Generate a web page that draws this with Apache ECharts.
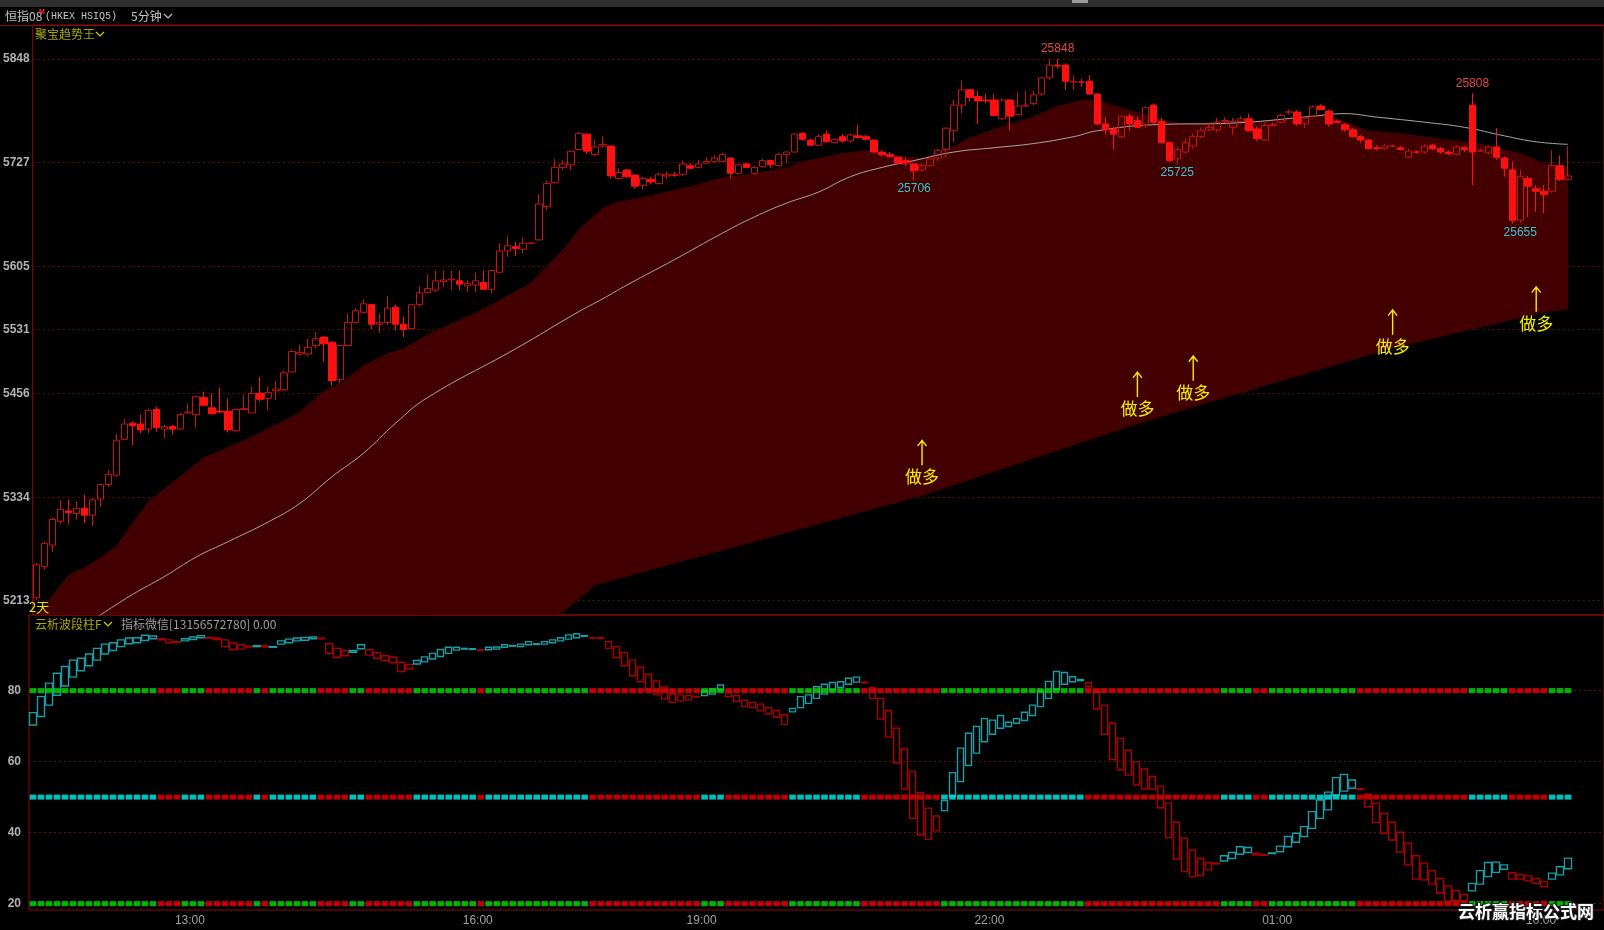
<!DOCTYPE html>
<html><head><meta charset="utf-8">
<script src="https://cdn.jsdelivr.net/npm/echarts@6/dist/echarts.min.js"></script>
<style>html,body{margin:0;padding:0;background:#000;}#c{width:1604px;height:930px;}</style>
</head><body><div id="c"></div>
<script>
// ---------- categories (5-minute bars, sessions) ----------
const sessionRanges = [['10:25','11:55'],['13:00','16:30'],['17:15','02:55'],['09:15','10:20']];
const padBars = 4;
const shownTimes = ['13:00','16:00','19:00','22:00','01:00','10:00'];
function expandSession(r){
  let [h,m] = r[0].split(':').map(Number);
  const [eh,em] = r[1].split(':').map(Number);
  const out = [];
  while (true) {
    out.push(String(h).padStart(2,'0') + ':' + String(m).padStart(2,'0'));
    if (h === eh && m === em) break;
    m += 5; if (m >= 60) { m -= 60; h = (h + 1) % 24; }
  }
  return out;
}
const times = [].concat(...sessionRanges.map(expandSession));
const categories = times.concat(new Array(padBars).fill(''));

// ---------- price candles ----------
const opens = [25216,25253,25278,25306,25318,25315,25321,25313,25332,25349,
25360,25402,25421,25420,25414,25437,25414,25417,25414,25433,
25431,25451,25439,25435,25435,25412,25437,25433,25456,25450,
25459,25460,25481,25502,25502,25512,25522,25516,25472,25512,
25539,25551,25560,25537,25539,25557,25537,25532,25560,25574,
25577,25587,25589,25588,25582,25583,25586,25578,25598,25623,
25628,25625,25632,25636,25675,25703,25721,25724,25742,25760,
25736,25746,25746,25708,25718,25712,25700,25707,25702,25711,
25712,25713,25723,25721,25726,25728,25728,25732,25714,25725,
25714,25722,25729,25723,25736,25739,25761,25753,25747,25760,
25750,25757,25752,25758,25757,25753,25739,25736,25733,25729,
25725,25718,25723,25732,25742,25764,25794,25812,25804,25800,
25800,25778,25800,25783,25793,25796,25807,25826,25841,25841,
25821,25821,25822,25807,25772,25766,25757,25781,25776,25770,
25794,25775,25750,25731,25739,25746,25757,25765,25765,25775,
25768,25775,25778,25766,25753,25770,25774,25786,25786,25772,
25781,25793,25787,25775,25771,25765,25757,25753,25744,25743,
25746,25744,25733,25739,25739,25747,25743,25739,25736,25744,
25794,25740,25738,25745,25732,25718,25659,25708,25696,25693,
25693,25723,25707];
const closes = [25255,25280,25308,25320,25316,25321,25313,25331,25349,25361,
25401,25420,25418,25413,25436,25416,25417,25414,25431,25434,
25452,25442,25432,25434,25413,25437,25438,25456,25449,25457,
25461,25480,25505,25504,25510,25520,25514,25471,25512,25539,
25553,25561,25537,25539,25556,25537,25531,25560,25574,25579,
25588,25589,25590,25584,25585,25588,25578,25600,25623,25629,
25626,25632,25632,25678,25702,25721,25725,25740,25761,25740,
25745,25748,25711,25715,25710,25699,25708,25704,25713,25713,
25712,25725,25720,25725,25728,25732,25736,25714,25724,25721,
25721,25729,25724,25736,25739,25760,25754,25747,25757,25751,
25754,25752,25759,25756,25754,25739,25736,25734,25726,25726,
25717,25723,25731,25741,25767,25794,25812,25803,25799,25799,
25782,25800,25781,25793,25794,25806,25826,25841,25840,25822,
25822,25821,25807,25772,25765,25760,25781,25772,25768,25791,
25774,25750,25729,25742,25750,25757,25764,25768,25774,25776,
25775,25778,25764,25755,25770,25771,25782,25786,25772,25779,
25792,25789,25772,25774,25765,25757,25753,25743,25743,25746,
25746,25742,25740,25739,25746,25743,25739,25737,25745,25742,
25739,25741,25745,25733,25720,25659,25710,25699,25693,25689,
25723,25707,25711];
const lows = [25214,25249,25270,25302,25302,25308,25304,25300,25323,25346,
25358,25401,25395,25409,25409,25411,25403,25408,25413,25433,
25416,25441,25431,25433,25410,25411,25436,25433,25446,25436,
25448,25459,25480,25501,25500,25509,25493,25465,25468,25511,
25538,25550,25531,25527,25536,25530,25522,25531,25558,25573,
25575,25581,25577,25577,25575,25575,25577,25573,25597,25616,
25617,25620,25631,25635,25671,25702,25718,25718,25741,25737,
25734,25744,25708,25707,25708,25696,25695,25701,25701,25707,
25710,25711,25719,25720,25725,25726,25727,25708,25713,25720,
25712,25721,25720,25722,25726,25738,25752,25746,25746,25750,
25749,25750,25750,25755,25753,25738,25734,25732,25725,25723,
25706,25716,25722,25728,25733,25750,25784,25798,25772,25796,
25781,25777,25764,25782,25792,25794,25805,25823,25837,25812,
25812,25815,25806,25770,25759,25742,25755,25764,25767,25767,
25772,25749,25727,25725,25737,25743,25755,25763,25762,25773,
25759,25774,25763,25752,25752,25769,25773,25783,25770,25767,
25780,25788,25769,25773,25763,25756,25750,25742,25741,25742,
25745,25741,25732,25737,25737,25741,25737,25735,25735,25739,
25700,25739,25736,25730,25710,25655,25656,25663,25669,25667,
25691,25705,25706];
const highs = [25257,25282,25310,25331,25331,25329,25337,25333,25349,25366,
25409,25426,25423,25431,25438,25440,25419,25419,25433,25444,
25453,25458,25456,25463,25450,25438,25454,25464,25475,25464,
25470,25483,25507,25513,25520,25528,25523,25517,25513,25550,
25556,25566,25561,25550,25570,25560,25546,25561,25582,25595,
25600,25600,25600,25600,25589,25598,25600,25601,25632,25640,
25634,25639,25633,25690,25706,25731,25730,25741,25762,25761,
25753,25757,25747,25720,25719,25713,25710,25710,25715,25716,
25716,25729,25726,25730,25733,25735,25738,25733,25725,25726,
25723,25731,25730,25738,25740,25761,25762,25755,25760,25764,
25755,25760,25761,25771,25759,25754,25741,25739,25734,25732,
25726,25726,25733,25743,25768,25800,25823,25813,25811,25807,
25807,25802,25801,25810,25811,25811,25827,25848,25848,25843,
25829,25825,25829,25808,25780,25768,25782,25784,25781,25793,
25796,25779,25751,25745,25755,25761,25768,25772,25779,25780,
25779,25781,25784,25769,25773,25774,25784,25789,25788,25781,
25794,25795,25789,25777,25773,25767,25759,25754,25747,25748,
25748,25746,25743,25741,25748,25749,25745,25741,25747,25746,
25808,25743,25747,25767,25734,25728,25718,25711,25700,25700,
25741,25735,25746];

// ---------- trend band (filled area) and moving line ----------
const bandTopIdx = [0,4,7,10,12,14,18,21,24,26,31,33,36,38,41,44,46,49,56,62,66,68,71,73,77,82,86,90,94,96,101,104,108,111,114,117,121,125,128,131,133,135,140,143,147,154,161,163,167,171,176,181,186,189,192];
const bandTopVal = [25196,25243,25257,25277,25304,25329,25359,25381,25393,25401,25424,25434,25459,25467,25489,25503,25509,25525,25555,25586,25625,25648,25674,25681,25688,25699,25709,25714,25721,25728,25738,25741,25735,25732,25741,25756,25769,25781,25793,25800,25800,25794,25780,25773,25774,25776,25782,25779,25764,25761,25755,25749,25738,25726,25722];
const bandLowIdx = [0,30,66,70,111,138,145,170,188,192];
const bandLowVal = [24995,25087,25199,25231,25336,25420,25440,25509,25549,25555];
const maIdx = [7,12,16,20,24,29,33,37,41,45,49,60,68,71,74,80,86,90,94,98,102,106,110,115,120,125,130,133,140,150,160,164,168,174,179,184,188,192];
const maVal = [25190,25220,25241,25264,25282,25305,25327,25358,25386,25421,25451,25508,25552,25567,25583,25613,25644,25663,25679,25692,25710,25721,25729,25739,25744,25749,25757,25764,25771,25773,25781,25784,25780,25774,25768,25758,25751,25748];

// ---------- annotations ----------
const extremeIdx = [128,110,143,180,186];
const extremeVal = [25848,25706,25725,25808,25655];
const extremeIsHigh = [true,false,false,true,false];
const longIdx = [111,138,145,170,188];
const longVal = [25387,25467,25486,25540,25567];
const longText = '做多';

// ---------- oscillator panel ----------
const waveOpen = [70.3,72.7,75.9,78.7,81.3,83.8,85.6,87.0,88.6,90.3,
91.3,92.4,93.2,93.5,94.1,94.6,94.6,94.3,93.8,94.0,
94.4,94.9,95.0,94.8,94.3,93.4,92.9,92.5,92.4,92.6,
92.2,93.1,93.5,94.0,94.2,94.6,94.8,93.2,91.9,91.3,
90.8,91.8,91.5,90.7,89.8,89.4,88.0,87.4,87.5,88.1,
88.9,89.6,90.5,91.4,91.7,91.6,91.5,91.5,91.7,92.2,
92.5,92.4,92.9,93.0,93.1,93.5,94.0,94.5,94.9,95.3,
94.9,94.9,93.8,92.4,90.7,88.6,86.6,84.6,82.7,81.0,
79.1,78.8,78.6,78.4,78.6,79.0,80.2,79.5,78.6,77.3,
76.7,76.2,75.2,74.4,73.2,74.0,75.2,76.4,77.8,79.0,
80.2,80.9,81.8,82.4,82.4,80.9,77.8,74.4,69.4,63.7,
57.2,51.3,46.9,44.7,46.2,50.3,54.4,58.9,62.4,65.6,
67.7,69.4,69.9,70.8,71.6,73.0,75.5,77.8,80.4,81.8,
82.5,82.8,82.3,79.6,75.9,70.8,66.5,63.2,60.0,57.9,
55.8,53.1,48.3,42.9,38.4,35.1,32.7,31.6,31.4,32.0,
32.7,33.9,34.4,34.2,33.8,34.1,34.6,36.0,37.3,38.9,
41.2,44.0,46.4,50.6,51.7,52.5,52.4,50.8,48.3,45.5,
42.9,40.1,37.0,33.5,31.4,29.3,27.1,25.0,23.7,22.6,
23.6,25.5,27.6,28.8,29.7,28.7,28.2,27.8,27.1,26.2,
26.9,28.1,29.8];
const waveClose = [73.8,78.3,82.1,84.9,86.8,88.6,89.1,90.3,91.9,93.1,
93.5,94.3,94.8,94.9,95.6,95.4,94.3,93.5,93.6,94.6,
95.1,95.5,94.8,94.4,92.4,91.6,91.7,92.3,92.7,92.3,
92.4,94.0,94.5,94.8,95.0,95.1,94.6,90.5,89.4,89.8,
91.3,92.9,90.0,89.1,88.5,87.9,85.4,86.1,88.5,89.5,
90.5,91.6,92.2,92.2,91.9,91.8,91.3,92.2,92.3,92.9,
92.7,93.1,93.8,93.2,93.8,94.3,94.9,95.7,96.0,95.5,
94.8,94.7,91.9,89.3,87.0,84.2,82.5,80.5,78.8,77.6,
76.7,77.1,77.4,78.2,79.9,80.5,81.6,78.3,77.0,75.5,
75.2,74.3,73.5,72.5,70.5,75.0,78.3,78.8,81.1,81.8,
82.3,82.5,83.5,83.8,82.2,77.8,72.0,66.9,59.7,52.3,
44.0,39.4,38.1,40.5,49.0,56.9,63.8,68.0,69.9,72.1,
71.7,73.0,71.1,72.1,73.9,75.9,79.9,82.6,85.4,85.1,
83.9,83.1,81.1,74.8,67.7,60.6,57.7,56.2,53.4,52.3,
52.3,47.0,38.6,32.5,29.0,27.6,27.9,29.5,31.2,33.5,
34.4,36.0,35.8,33.7,33.6,34.3,36.2,38.9,39.8,41.7,
45.9,49.2,51.4,55.5,56.4,54.8,52.2,47.3,42.8,39.8,
37.9,34.5,30.9,26.9,26.7,25.5,22.9,20.6,20.8,20.8,
25.7,29.3,31.6,31.7,30.9,26.9,26.9,26.4,25.7,24.8,
28.6,30.4,32.8];
const signalLevels = [80, 50, 20];

// ---------- axes ticks ----------
const priceTicks = [25848,25727,25605,25531,25456,25334,25213];
const oscTicks = [20,40,60,80];

// ================= build chart =================
const FONT = "'Liberation Sans','Noto Sans CJK SC',sans-serif";
const CJK = "'Noto Sans CJK SC',sans-serif";
const waveUp = waveOpen.map((o,k) => waveClose[k] >= o);
const gridLine = {color:'#6a0c0c', type:[2,3], width:1};
const frame = '#8c0a0a';

const markData = [];
extremeIdx.forEach((x,k) => {
  const hi = extremeIsHigh[k];
  markData.push({
    coord:[x, extremeVal[k]], symbol:'circle', symbolSize:1,
    itemStyle:{color:'rgba(0,0,0,0)'},
    label:{show:true, formatter:String(extremeVal[k]), position:'inside',
      offset:[0, hi ? -10 : 9], color: hi ? '#e24a4a' : '#38c4d2', fontSize:12, fontFamily:FONT}
  });
});
longIdx.forEach((x,k) => {
  markData.push({
    coord:[x, longVal[k]],
    symbol:'path://M5,0 L10,6.5 L9,7.4 L5.7,3.4 L5.7,26 L4.3,26 L4.3,3.4 L1,7.4 L0,6.5 Z',
    symbolSize:[10,26], itemStyle:{color:'#f4ec00'},
    label:{show:true, formatter:longText, position:'bottom', distance:3,
      color:'#f4ec00', fontSize:17, fontFamily:CJK}
  });
});

function levelSeries(level){
  return {
    type:'scatter', xAxisIndex:1, yAxisIndex:1, silent:true, z:3,
    symbol:'rect', symbolSize:[6.6,5],
    data: waveOpen.map((_,k) => [k, level]),
    itemStyle:{color: p => waveUp[p.dataIndex] ? (level === 50 ? '#00f0f0' : '#00e000') : '#f00000'}
  };
}

const chart = echarts.init(document.getElementById('c'));
chart.setOption({
  backgroundColor:'#000',
  animation:false,
  textStyle:{fontFamily:FONT},
  grid:[
    {left:29, top:25, width:1576, height:590, show:true, borderColor:frame, borderWidth:1, backgroundColor:'transparent'},
    {left:29, top:615, width:1576, height:295, show:true, borderColor:frame, borderWidth:1, backgroundColor:'transparent'}
  ],
  xAxis:[
    {type:'category', gridIndex:0, data:categories, axisLine:{show:false}, axisTick:{show:false}, axisLabel:{show:false}, splitLine:{show:false}},
    {type:'category', gridIndex:1, data:categories, axisLine:{show:false}, axisTick:{show:false},
      axisLabel:{color:'#a2a2a2', fontSize:12, margin:5, padding:[0,0,0,10], interval:(i,v) => shownTimes.indexOf(v) >= 0}, splitLine:{show:false}}
  ],
  yAxis:[
    {type:'value', gridIndex:0, min:25196, max:25888, axisLine:{show:false},
      axisTick:{show:false, customValues:priceTicks},
      axisLabel:{customValues:priceTicks, formatter:v => String(Math.round(v)).slice(-4), color:'#b2b2b2', fontWeight:'bold', fontSize:12, margin:3},
      splitLine:{show:true, lineStyle:gridLine}},
    {type:'value', gridIndex:1, min:18.2, max:101.3, axisLine:{show:false},
      axisTick:{show:false, customValues:oscTicks},
      axisLabel:{customValues:oscTicks, color:'#b2b2b2', fontWeight:'bold', fontSize:12, margin:8},
      splitLine:{show:true, lineStyle:gridLine}}
  ],
  series:[
    {type:'custom', xAxisIndex:0, yAxisIndex:0, silent:true, clip:true, z:1,
      data:[[0, bandTopVal[0]]],
      renderItem:(params, api) => {
        const top = bandTopIdx.map((x,k) => api.coord([x, bandTopVal[k]]));
        const low = bandLowIdx.map((x,k) => api.coord([x, bandLowVal[k]])).reverse();
        const cs = params.coordSys;
        return {type:'polygon', shape:{points: top.concat(low)}, style:{fill:'#420000'},
          clipPath:{type:'rect', shape:{x:cs.x, y:cs.y, width:cs.width, height:cs.height}}};
      }},
    {type:'line', xAxisIndex:0, yAxisIndex:0, silent:true, z:2, smooth:0.45, symbol:'none',
      data: maIdx.map((x,k) => [x, maVal[k]]), lineStyle:{color:'#a8a8a8', width:1}},
    {type:'candlestick', xAxisIndex:0, yAxisIndex:0, silent:true, z:3, barWidth:7,
      data: opens.map((o,k) => [o, closes[k], lows[k], highs[k]]),
      itemStyle:{color:'transparent', color0:'#ff1010', borderColor:'#c41414', borderColor0:'#ff1010', borderWidth:1},
      markPoint:{silent:true, animation:false, data:markData}},
    {type:'candlestick', xAxisIndex:1, yAxisIndex:1, silent:true, z:2, barWidth:7,
      data: waveOpen.map((o,k) => [o, waveClose[k], Math.min(o, waveClose[k]), Math.max(o, waveClose[k])]),
      itemStyle:{color:'transparent', color0:'transparent', borderColor:'#189ea6', borderColor0:'#a80000', borderWidth:1.4}},
    ...signalLevels.map(levelSeries)
  ],
  graphic:[
    {type:'rect', shape:{x:0, y:0, width:1604, height:7}, style:{fill:'#2e2e2e'}, z:50},
    {type:'rect', shape:{x:1072, y:0, width:16, height:3}, style:{fill:'#9a9a9a'}, z:51},
    {type:'line', shape:{x1:0, y1:25.5, x2:1604, y2:25.5}, style:{stroke:frame, lineWidth:1}, z:50},
    {type:'text', x:5, y:16, z:50, style:{text:'恒指08', fill:'#c6c6c6', font:"12px 'Noto Sans CJK SC'", textVerticalAlign:'middle'}},
    {type:'text', x:39, y:12, z:50, style:{text:'M', fill:'#ff3030', font:"bold 7px 'Liberation Sans'", textVerticalAlign:'middle'}},
    {type:'text', x:45, y:16, z:50, style:{text:'(HKEX HSIQ5)', fill:'#c6c6c6', font:"10px 'Liberation Mono'", textVerticalAlign:'middle'}},
    {type:'text', x:131, y:16, z:50, style:{text:'5分钟', fill:'#c6c6c6', font:"12px 'Noto Sans CJK SC'", textVerticalAlign:'middle'}},
    {type:'polyline', z:50, shape:{points:[[164,14],[168,18],[172,14]]}, style:{stroke:'#c6c6c6', lineWidth:1.2, fill:null}},
    {type:'text', x:35, y:34, z:50, style:{text:'聚宝趋势王', fill:'#a8a800', font:"12px 'Noto Sans CJK SC'", textVerticalAlign:'middle'}},
    {type:'polyline', z:50, shape:{points:[[96,32],[100,36],[104,32]]}, style:{stroke:'#d0d000', lineWidth:1.2, fill:null}},
    {type:'text', x:29, y:607, z:50, style:{text:'2天', fill:'#e8e800', font:"13px 'Noto Sans CJK SC'", textVerticalAlign:'middle'}},
    {type:'text', x:35, y:624, z:50, style:{text:'云析波段柱F', fill:'#a8a800', font:"12px 'Noto Sans CJK SC'", textVerticalAlign:'middle'}},
    {type:'polyline', z:50, shape:{points:[[104,622],[108,626],[112,622]]}, style:{stroke:'#d0d000', lineWidth:1.2, fill:null}},
    {type:'text', x:121, y:624, z:50, style:{text:'指标微信[13156572780] 0.00', fill:'#9e9e9e', font:"12px 'Noto Sans CJK SC'", textVerticalAlign:'middle'}},
    {type:'text', x:1526, y:912, z:60, style:{text:'云析赢指标公式网', fill:'#ffffff', font:"bold 17px 'Noto Sans CJK SC'", textAlign:'center', textVerticalAlign:'middle', stroke:'#202020', lineWidth:2}}
  ]
});
</script>
</body></html>
